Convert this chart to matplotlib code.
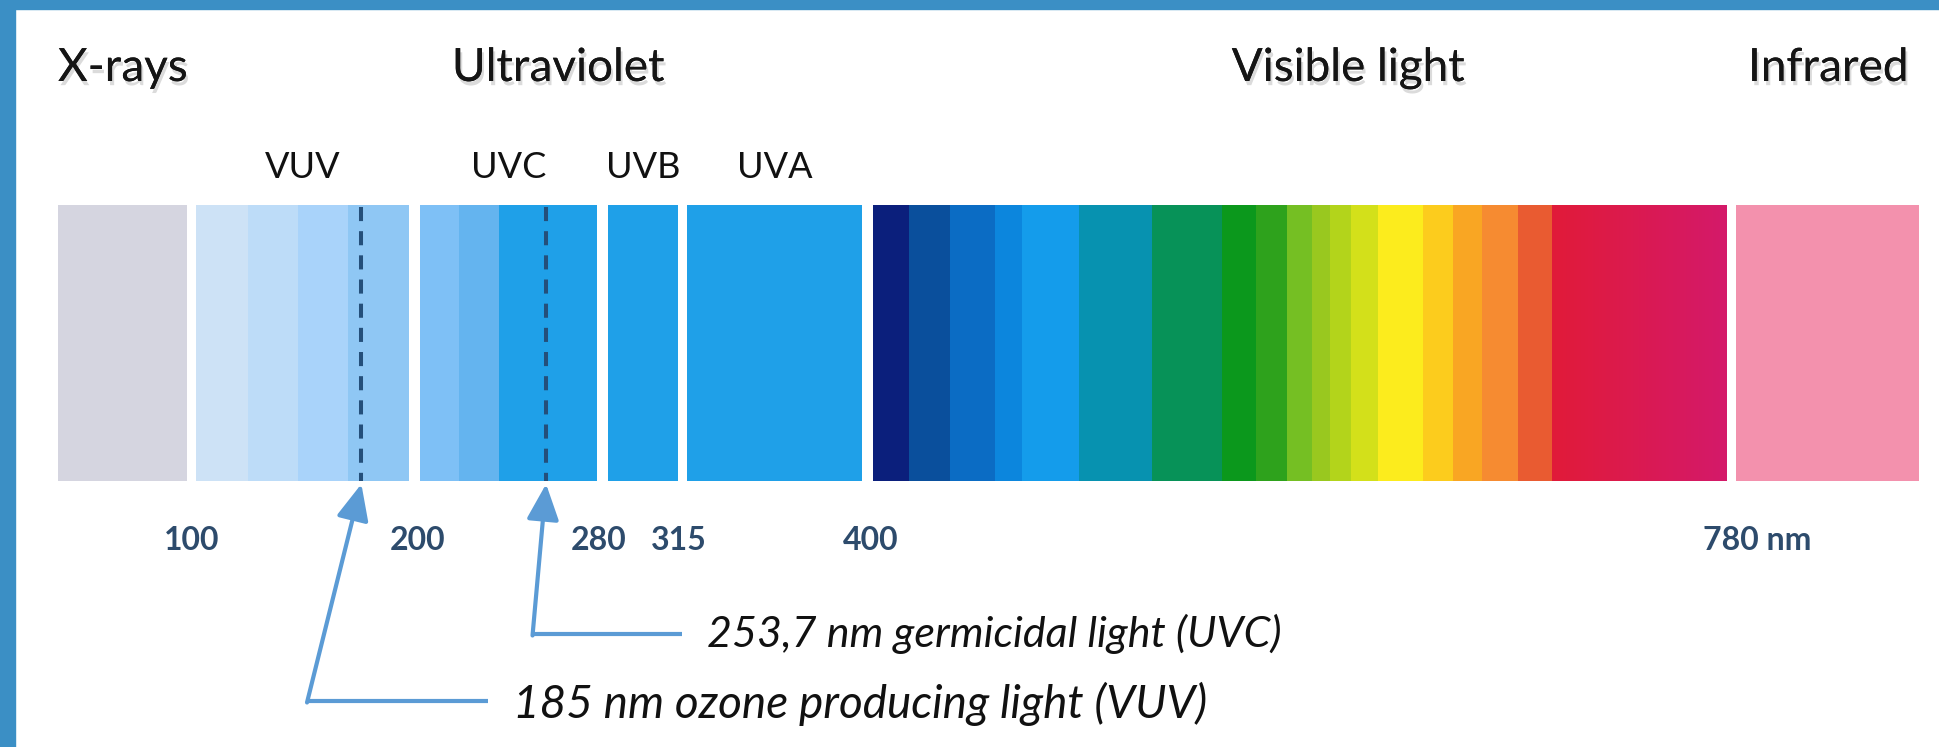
import numpy as np
import matplotlib
matplotlib.use('Agg')
import matplotlib.pyplot as plt
import matplotlib.patheffects as pe
from matplotlib.colors import LinearSegmentedColormap
from matplotlib.patches import Rectangle

# ---- data: wavelength bands (nm) as drawn, and their colours ----
xray_edges = [41, 98]
xray_colors = ['#d5d5e0']
vuv_edges = [102, 125, 147, 169, 196]
vuv_colors = ['#cde2f6', '#bddcf8', '#a9d3fa', '#8fc7f4']
uvc_edges = [201, 218, 236, 279]
uvc_colors = ['#7ec0f6', '#64b4ef', '#1fa0e8']
uvb_edges = [284, 315]
uvb_colors = ['#1fa0e8']
uva_edges = [319, 396]
uva_colors = ['#1fa0e8']
visible_edges = [401, 417, 435, 455, 467, 492, 524, 555, 570, 584, 595,
                 603, 612, 624, 644, 657, 670, 686, 701]
visible_colors = ['#0b1f7c', '#0a4f9c', '#0b6cc4', '#0c86dd', '#149ceb',
                  '#0792b0', '#079258', '#0b981c', '#2ea21c', '#75bf23',
                  '#99c81f', '#b3d41b', '#d3e01a', '#fcec1d', '#fccc1d',
                  '#f9a623', '#f68b31', '#e95b31']
red_edges = [701, 778]
red_colors = ['#e11b39', '#d4196a']
ir_edges = [782, 863]
ir_colors = ['#f391ad']

regions = ['X-rays', 'Ultraviolet', 'Visible light', 'Infrared']
region_pos_nm = [41, 262, 611, 823]
uv_bands = ['VUV', 'UVC', 'UVB', 'UVA']
tick_nm = [100, 200, 280, 315, 400]
tick_labels = ['100', '200', '280', '315', '400']

marker_nm = [175, 256.6]   # where the dashed lines are drawn
marker_labels = ['185 nm ozone producing light (VUV)',
                 '253,7 nm germicidal light (UVC)']

# ---- layout (pixel rows, figure is 1939 x 747) ----
W, H = 1939, 747
BAR_TOP, BAR_BOT = 205, 481
NM_LEFT, NM_RIGHT = 15.4, 871.8

plt.rcParams['font.family'] = ['Lato', 'DejaVu Sans']
fig = plt.figure(figsize=(W / 100, H / 100), dpi=100)
fig.patch.set_facecolor('white')
ax = fig.add_axes([0, 0, 1, 1])
ax.axis('off')


def draw_stripes(edges, colors):
    left = np.array(edges[:-1], dtype=float)
    width = np.diff(edges)
    ax.bar(left, BAR_BOT - BAR_TOP, width=width, bottom=BAR_TOP,
           align='edge', color=colors, linewidth=0)


for e, c in [(xray_edges, xray_colors), (vuv_edges, vuv_colors),
             (uvc_edges, uvc_colors), (uvb_edges, uvb_colors),
             (uva_edges, uva_colors), (visible_edges, visible_colors),
             (ir_edges, ir_colors)]:
    draw_stripes(e, c)

# red end of the visible band is a smooth gradient
cmap = LinearSegmentedColormap.from_list('red', red_colors)
ax.imshow(np.linspace(0, 1, 200)[None, :], cmap=cmap, aspect='auto',
          extent=(red_edges[0], red_edges[1], BAR_BOT, BAR_TOP), zorder=2)

# dashed marker lines
ax.vlines(marker_nm, BAR_TOP + 2, BAR_BOT, colors='#244f7a', linewidth=2.9,
          linestyles=(0, (3.5, 2.5)), zorder=3)

# headings with a soft shadow
shadow = [pe.withSimplePatchShadow(offset=(1.5, -3), shadow_rgbFace='#888888',
                                   alpha=0.3), pe.Normal()]
for i, name in enumerate(regions):
    ha = 'left' if i == 0 else 'center'
    ax.text(region_pos_nm[i], 81, name, fontsize=33, ha=ha, va='baseline',
            color='#151515', path_effects=shadow)

# UV sub-band labels centred on their blocks
for name, e in zip(uv_bands, [vuv_edges, uvc_edges, uvb_edges, uva_edges]):
    ax.text((e[0] + e[-1]) / 2, 178, name, fontsize=26, ha='center',
            va='baseline', color='#111111')

# wavelength labels
for x, t in zip(tick_nm, tick_labels):
    ax.text(x, 550, t, fontsize=23, fontweight='bold', ha='center',
            va='baseline', color='#2d4b6c')
ax.annotate('780 nm', xy=(780, 550), xytext=(-20, 0),
            textcoords='offset points', fontsize=23, fontweight='bold',
            ha='left', va='baseline', color='#2d4b6c')

# call-out arrows
arrow_col = '#5b9bd5'
corner_dx = [-24, -6]
line_rows = [701, 634]
text_rows = [718, 647]
text_nm = [242, 327.5]
text_size = [33, 31]
for m, lab, dx, ly, ty, tx, fs in zip(marker_nm, marker_labels, corner_dx,
                                      line_rows, text_rows, text_nm,
                                      text_size):
    cx = m + dx
    ax.plot([cx, tx - 11], [ly, ly], color=arrow_col, lw=3,
            solid_capstyle='butt')
    ax.annotate('', xy=(m, BAR_BOT + 3), xytext=(cx, ly + 1.5),
                arrowprops=dict(arrowstyle='-|>,head_length=1.0,head_width=0.45',
                                color=arrow_col, lw=3, shrinkA=0, shrinkB=0,
                                mutation_scale=22))
    ax.text(tx, ty, lab, fontsize=fs, style='italic', ha='left',
            va='baseline', color='#111111')

ax.set_xlim(NM_LEFT, NM_RIGHT)
ax.set_ylim(H, 0)

# frame on the top and left edges
fig.patches.append(Rectangle((0, 0), 15 / W, 1, transform=fig.transFigure,
                             color='#3b8fc5', zorder=10))
fig.patches.append(Rectangle((0, 1 - 9 / H), 1, 9 / H,
                             transform=fig.transFigure, color='#3b8fc5',
                             zorder=10))

fig.savefig('out.png', dpi=100, facecolor='white')
